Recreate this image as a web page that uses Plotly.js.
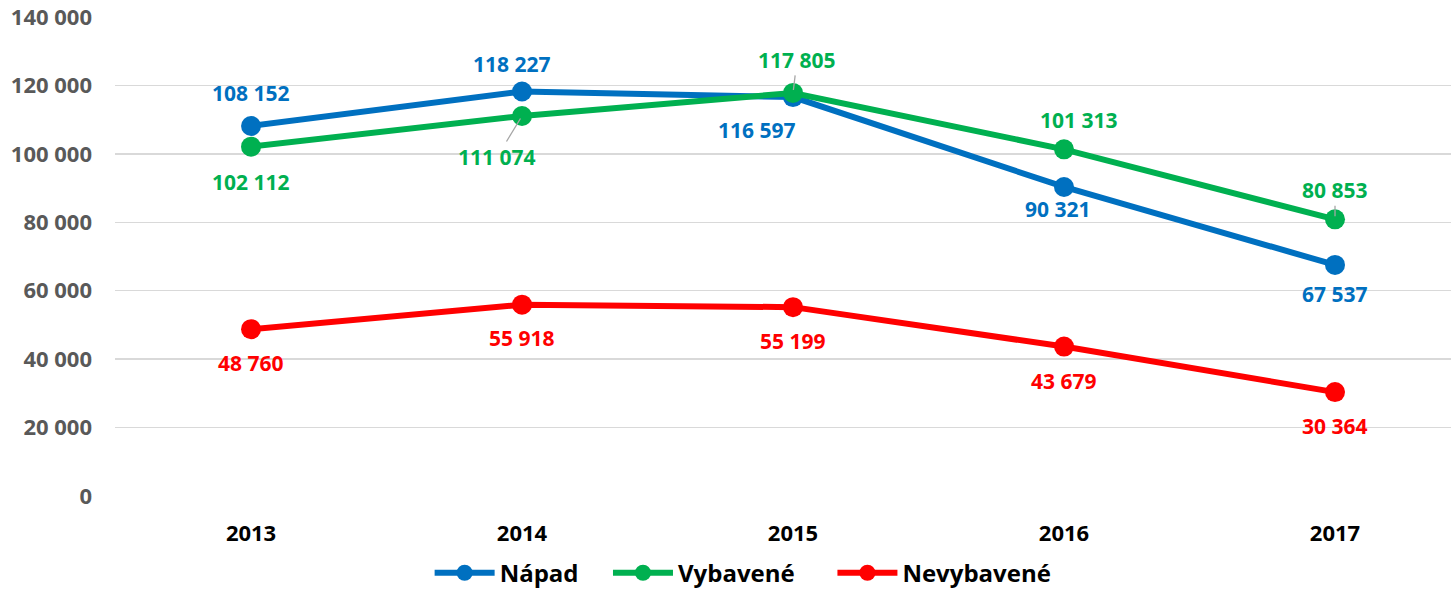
<!DOCTYPE html>
<html><head><meta charset="utf-8">
<script src="https://cdn.plot.ly/plotly-3.0.1.min.js"></script>
<style>html,body{margin:0;padding:0;background:#fff}</style>
</head><body><div id="chart" style="width:1451px;height:592px"></div>
<script>
const years = ['2013','2014','2015','2016','2017'];
const napad = [108152, 118227, 116597, 90321, 67537];
const vybavene = [102112, 111074, 117805, 101313, 80853];
const nevybavene = [48760, 55918, 55199, 43679, 30364];
const seriesNames = ['Nápad','Vybavené','Nevybavené'];
const colors = ['#0070C0','#00B050','#FF0000'];
const yTicks = [0,20000,40000,60000,80000,100000,120000,140000];

// label offsets (px) per series per point: [xshift, yshift, leader]
const labelPos = [
  [[0,33,0],[-10,27,0],[-36,-33,0],[-6,-22,0],[0,-29,0]],
  [[0,-35,0],[-25,-41,1],[4,33,1],[15,29,0],[0,29,1]],
  [[0,-34,0],[0,-33,0],[0,-34,0],[0,-34,0],[0,-34,0]]
];
const fmt = v => String(v).replace(/\B(?=(\d{3})+(?!\d))/g,' ');
const FONT = '"Open Sans", "Noto Sans", sans-serif';
const allSeries = [napad, vybavene, nevybavene];
const legendIds = ['legend','legend2','legend3'];

const traces = allSeries.map((s,i)=>({
  type:'scatter', mode:'lines+markers', name:seriesNames[i],
  x:years.map((_,k)=>k), y:s,
  line:{color:colors[i], width:6},
  marker:{color:colors[i], size:20},
  legend:legendIds[i],
  hoverinfo:'skip'
}));

const annotations = [];
allSeries.forEach((s,i)=>{
  s.forEach((v,k)=>{
    const [dx,dy,lead] = labelPos[i][k];
    if(lead){
      annotations.push({x:k, y:v, xref:'x', yref:'y', text:fmt(v), showarrow:true,
        ax:dx, ay:-dy, arrowhead:0, arrowwidth:1.3, arrowcolor:'#A6A6A6', standoff:3,
        font:{family:FONT, size:21, color:colors[i], weight:'bold'}});
    } else {
      annotations.push({x:k, y:v, xref:'x', yref:'y', text:fmt(v), showarrow:false,
        xshift:dx, yshift:dy,
        font:{family:FONT, size:21, color:colors[i], weight:'bold'}});
    }
  });
});

const legendFont = {family:FONT, size:24, color:'#000', weight:'bold'};
const legendX = [0.2355, 0.369, 0.537];
const mkLegend = x => ({orientation:'h', x:x, xanchor:'left', y:-0.161, yanchor:'middle',
  font:legendFont, itemwidth:60, bgcolor:'rgba(0,0,0,0)'});

const layout = {
  width:1451, height:592,
  margin:{l:115, r:0, t:17, b:96, autoexpand:false},
  paper_bgcolor:'#fff', plot_bgcolor:'#fff',
  separators:', ',
  showlegend:true,
  legend:mkLegend(legendX[0]),
  legend2:mkLegend(legendX[1]),
  legend3:mkLegend(legendX[2]),
  xaxis:{range:[-0.502,4.428], tickmode:'array', tickvals:years.map((_,k)=>k), ticktext:years,
    showgrid:false, zeroline:false, showline:false, ticks:'', ticklabelstandoff:22,
    tickfont:{family:FONT, size:22, color:'#000', weight:'bold'}},
  yaxis:{range:[0,140000], tickmode:'array', tickvals:yTicks, ticktext:yTicks.map(fmt),
    showgrid:true, gridcolor:'#D9D9D9', gridwidth:1.5, zeroline:false, showline:false, ticks:'',
    ticklabelstandoff:22,
    tickfont:{family:FONT, size:22, color:'#595959', weight:'bold'}},
  annotations:annotations
};
Plotly.newPlot('chart', traces, layout, {displayModeBar:false, staticPlot:true});
</script></body></html>
